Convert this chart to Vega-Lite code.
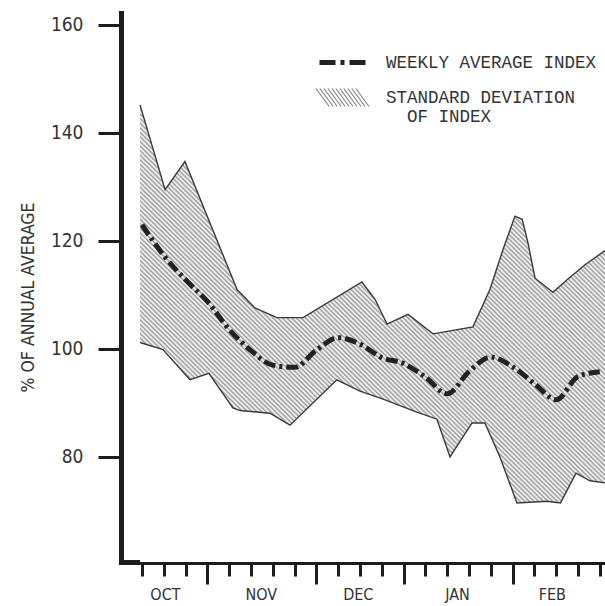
{
  "$schema": "https://vega.github.io/schema/vega-lite/v6.json",
  "width": 484,
  "height": 549,
  "padding": {"left": 121, "top": 13, "right": 0, "bottom": 44},
  "autosize": {"type": "none"},
  "background": "white",
  "config": {
    "view": {"stroke": null},
    "axis": {"zindex": 1, "grid": false, "domainColor": "#1c1c1c", "tickColor": "#1c1c1c", "labelColor": "#333333"}
  },
  "datasets": {
    "upper": [
      {"week": -0.09, "value": 145.2}, {"week": 1.06, "value": 129.5}, {"week": 1.97, "value": 134.7},
      {"week": 4.36, "value": 111.0}, {"week": 5.18, "value": 107.6}, {"week": 6.19, "value": 105.8},
      {"week": 7.39, "value": 105.8}, {"week": 10.09, "value": 112.4}, {"week": 10.69, "value": 109.2},
      {"week": 11.24, "value": 104.6}, {"week": 12.2, "value": 106.4}, {"week": 13.35, "value": 102.8},
      {"week": 15.18, "value": 104.1}, {"week": 15.96, "value": 111.0}, {"week": 16.56, "value": 118.4},
      {"week": 17.11, "value": 124.6}, {"week": 17.44, "value": 124.0}, {"week": 17.71, "value": 119.6},
      {"week": 18.03, "value": 113.1}, {"week": 18.85, "value": 110.5}, {"week": 19.5, "value": 112.8},
      {"week": 20.32, "value": 115.6}, {"week": 21.24, "value": 118.2}
    ],
    "lower": [
      {"week": -0.09, "value": 101.2}, {"week": 0.96, "value": 99.9}, {"week": 2.2, "value": 94.3},
      {"week": 3.07, "value": 95.5}, {"week": 4.17, "value": 89.1}, {"week": 4.5, "value": 88.6},
      {"week": 5.87, "value": 88.1}, {"week": 6.79, "value": 85.9}, {"week": 8.94, "value": 94.3},
      {"week": 10.0, "value": 92.2}, {"week": 11.06, "value": 90.7}, {"week": 12.61, "value": 88.3},
      {"week": 13.53, "value": 87.0}, {"week": 14.13, "value": 80.0}, {"week": 15.14, "value": 86.3},
      {"week": 15.73, "value": 86.3}, {"week": 16.42, "value": 80.0}, {"week": 17.2, "value": 71.5},
      {"week": 18.58, "value": 71.8}, {"week": 19.2, "value": 71.5}, {"week": 19.91, "value": 77.0},
      {"week": 20.55, "value": 75.6}, {"week": 21.24, "value": 75.2}
    ],
    "mean": [
      {"week": 0, "value": 123.0}, {"week": 1, "value": 117.3}, {"week": 2, "value": 112.8},
      {"week": 3, "value": 108.8}, {"week": 4, "value": 103.6}, {"week": 5, "value": 99.7},
      {"week": 6, "value": 97.0}, {"week": 7, "value": 96.6}, {"week": 8, "value": 99.8},
      {"week": 9, "value": 102.1}, {"week": 10, "value": 100.9}, {"week": 11, "value": 98.4},
      {"week": 12, "value": 97.3}, {"week": 13, "value": 94.8}, {"week": 14, "value": 91.7},
      {"week": 15, "value": 95.8}, {"week": 16, "value": 98.5}, {"week": 17, "value": 96.7},
      {"week": 18, "value": 93.6}, {"week": 19, "value": 90.6}, {"week": 20, "value": 94.9},
      {"week": 21, "value": 95.8}
    ]
  },
  "layer": [
    {
      "data": {"name": "upper"},
      "mark": {
        "type": "area", "interpolate": "linear",
        "fill": {
          "gradient": "linear", "x1": 0, "y1": 1, "x2": 1, "y2": 0,
          "stops": [
{"offset":0,"color":"#999"},{"offset":0.0025,"color":"#fff"},{"offset":0.005,"color":"#999"},{"offset":0.0075,"color":"#fff"},
{"offset":0.01,"color":"#999"},{"offset":0.0125,"color":"#fff"},{"offset":0.015,"color":"#999"},{"offset":0.0175,"color":"#fff"},
{"offset":0.02,"color":"#999"},{"offset":0.0225,"color":"#fff"},{"offset":0.025,"color":"#999"},{"offset":0.0275,"color":"#fff"},
{"offset":0.03,"color":"#999"},{"offset":0.0325,"color":"#fff"},{"offset":0.035,"color":"#999"},{"offset":0.0375,"color":"#fff"},
{"offset":0.04,"color":"#999"},{"offset":0.0425,"color":"#fff"},{"offset":0.045,"color":"#999"},{"offset":0.0475,"color":"#fff"},
{"offset":0.05,"color":"#999"},{"offset":0.0525,"color":"#fff"},{"offset":0.055,"color":"#999"},{"offset":0.0575,"color":"#fff"},
{"offset":0.06,"color":"#999"},{"offset":0.0625,"color":"#fff"},{"offset":0.065,"color":"#999"},{"offset":0.0675,"color":"#fff"},
{"offset":0.07,"color":"#999"},{"offset":0.0725,"color":"#fff"},{"offset":0.075,"color":"#999"},{"offset":0.0775,"color":"#fff"},
{"offset":0.08,"color":"#999"},{"offset":0.0825,"color":"#fff"},{"offset":0.085,"color":"#999"},{"offset":0.0875,"color":"#fff"},
{"offset":0.09,"color":"#999"},{"offset":0.0925,"color":"#fff"},{"offset":0.095,"color":"#999"},{"offset":0.0975,"color":"#fff"},
{"offset":0.1,"color":"#999"},{"offset":0.1025,"color":"#fff"},{"offset":0.105,"color":"#999"},{"offset":0.1075,"color":"#fff"},
{"offset":0.11,"color":"#999"},{"offset":0.1125,"color":"#fff"},{"offset":0.115,"color":"#999"},{"offset":0.1175,"color":"#fff"},
{"offset":0.12,"color":"#999"},{"offset":0.1225,"color":"#fff"},{"offset":0.125,"color":"#999"},{"offset":0.1275,"color":"#fff"},
{"offset":0.13,"color":"#999"},{"offset":0.1325,"color":"#fff"},{"offset":0.135,"color":"#999"},{"offset":0.1375,"color":"#fff"},
{"offset":0.14,"color":"#999"},{"offset":0.1425,"color":"#fff"},{"offset":0.145,"color":"#999"},{"offset":0.1475,"color":"#fff"},
{"offset":0.15,"color":"#999"},{"offset":0.1525,"color":"#fff"},{"offset":0.155,"color":"#999"},{"offset":0.1575,"color":"#fff"},
{"offset":0.16,"color":"#999"},{"offset":0.1625,"color":"#fff"},{"offset":0.165,"color":"#999"},{"offset":0.1675,"color":"#fff"},
{"offset":0.17,"color":"#999"},{"offset":0.1725,"color":"#fff"},{"offset":0.175,"color":"#999"},{"offset":0.1775,"color":"#fff"},
{"offset":0.18,"color":"#999"},{"offset":0.1825,"color":"#fff"},{"offset":0.185,"color":"#999"},{"offset":0.1875,"color":"#fff"},
{"offset":0.19,"color":"#999"},{"offset":0.1925,"color":"#fff"},{"offset":0.195,"color":"#999"},{"offset":0.1975,"color":"#fff"},
{"offset":0.2,"color":"#999"},{"offset":0.2025,"color":"#fff"},{"offset":0.205,"color":"#999"},{"offset":0.2075,"color":"#fff"},
{"offset":0.21,"color":"#999"},{"offset":0.2125,"color":"#fff"},{"offset":0.215,"color":"#999"},{"offset":0.2175,"color":"#fff"},
{"offset":0.22,"color":"#999"},{"offset":0.2225,"color":"#fff"},{"offset":0.225,"color":"#999"},{"offset":0.2275,"color":"#fff"},
{"offset":0.23,"color":"#999"},{"offset":0.2325,"color":"#fff"},{"offset":0.235,"color":"#999"},{"offset":0.2375,"color":"#fff"},
{"offset":0.24,"color":"#999"},{"offset":0.2425,"color":"#fff"},{"offset":0.245,"color":"#999"},{"offset":0.2475,"color":"#fff"},
{"offset":0.25,"color":"#999"},{"offset":0.2525,"color":"#fff"},{"offset":0.255,"color":"#999"},{"offset":0.2575,"color":"#fff"},
{"offset":0.26,"color":"#999"},{"offset":0.2625,"color":"#fff"},{"offset":0.265,"color":"#999"},{"offset":0.2675,"color":"#fff"},
{"offset":0.27,"color":"#999"},{"offset":0.2725,"color":"#fff"},{"offset":0.275,"color":"#999"},{"offset":0.2775,"color":"#fff"},
{"offset":0.28,"color":"#999"},{"offset":0.2825,"color":"#fff"},{"offset":0.285,"color":"#999"},{"offset":0.2875,"color":"#fff"},
{"offset":0.29,"color":"#999"},{"offset":0.2925,"color":"#fff"},{"offset":0.295,"color":"#999"},{"offset":0.2975,"color":"#fff"},
{"offset":0.3,"color":"#999"},{"offset":0.3025,"color":"#fff"},{"offset":0.305,"color":"#999"},{"offset":0.3075,"color":"#fff"},
{"offset":0.31,"color":"#999"},{"offset":0.3125,"color":"#fff"},{"offset":0.315,"color":"#999"},{"offset":0.3175,"color":"#fff"},
{"offset":0.32,"color":"#999"},{"offset":0.3225,"color":"#fff"},{"offset":0.325,"color":"#999"},{"offset":0.3275,"color":"#fff"},
{"offset":0.33,"color":"#999"},{"offset":0.3325,"color":"#fff"},{"offset":0.335,"color":"#999"},{"offset":0.3375,"color":"#fff"},
{"offset":0.34,"color":"#999"},{"offset":0.3425,"color":"#fff"},{"offset":0.345,"color":"#999"},{"offset":0.3475,"color":"#fff"},
{"offset":0.35,"color":"#999"},{"offset":0.3525,"color":"#fff"},{"offset":0.355,"color":"#999"},{"offset":0.3575,"color":"#fff"},
{"offset":0.36,"color":"#999"},{"offset":0.3625,"color":"#fff"},{"offset":0.365,"color":"#999"},{"offset":0.3675,"color":"#fff"},
{"offset":0.37,"color":"#999"},{"offset":0.3725,"color":"#fff"},{"offset":0.375,"color":"#999"},{"offset":0.3775,"color":"#fff"},
{"offset":0.38,"color":"#999"},{"offset":0.3825,"color":"#fff"},{"offset":0.385,"color":"#999"},{"offset":0.3875,"color":"#fff"},
{"offset":0.39,"color":"#999"},{"offset":0.3925,"color":"#fff"},{"offset":0.395,"color":"#999"},{"offset":0.3975,"color":"#fff"},
{"offset":0.4,"color":"#999"},{"offset":0.4025,"color":"#fff"},{"offset":0.405,"color":"#999"},{"offset":0.4075,"color":"#fff"},
{"offset":0.41,"color":"#999"},{"offset":0.4125,"color":"#fff"},{"offset":0.415,"color":"#999"},{"offset":0.4175,"color":"#fff"},
{"offset":0.42,"color":"#999"},{"offset":0.4225,"color":"#fff"},{"offset":0.425,"color":"#999"},{"offset":0.4275,"color":"#fff"},
{"offset":0.43,"color":"#999"},{"offset":0.4325,"color":"#fff"},{"offset":0.435,"color":"#999"},{"offset":0.4375,"color":"#fff"},
{"offset":0.44,"color":"#999"},{"offset":0.4425,"color":"#fff"},{"offset":0.445,"color":"#999"},{"offset":0.4475,"color":"#fff"},
{"offset":0.45,"color":"#999"},{"offset":0.4525,"color":"#fff"},{"offset":0.455,"color":"#999"},{"offset":0.4575,"color":"#fff"},
{"offset":0.46,"color":"#999"},{"offset":0.4625,"color":"#fff"},{"offset":0.465,"color":"#999"},{"offset":0.4675,"color":"#fff"},
{"offset":0.47,"color":"#999"},{"offset":0.4725,"color":"#fff"},{"offset":0.475,"color":"#999"},{"offset":0.4775,"color":"#fff"},
{"offset":0.48,"color":"#999"},{"offset":0.4825,"color":"#fff"},{"offset":0.485,"color":"#999"},{"offset":0.4875,"color":"#fff"},
{"offset":0.49,"color":"#999"},{"offset":0.4925,"color":"#fff"},{"offset":0.495,"color":"#999"},{"offset":0.4975,"color":"#fff"},
{"offset":0.5,"color":"#999"},{"offset":0.5025,"color":"#fff"},{"offset":0.505,"color":"#999"},{"offset":0.5075,"color":"#fff"},
{"offset":0.51,"color":"#999"},{"offset":0.5125,"color":"#fff"},{"offset":0.515,"color":"#999"},{"offset":0.5175,"color":"#fff"},
{"offset":0.52,"color":"#999"},{"offset":0.5225,"color":"#fff"},{"offset":0.525,"color":"#999"},{"offset":0.5275,"color":"#fff"},
{"offset":0.53,"color":"#999"},{"offset":0.5325,"color":"#fff"},{"offset":0.535,"color":"#999"},{"offset":0.5375,"color":"#fff"},
{"offset":0.54,"color":"#999"},{"offset":0.5425,"color":"#fff"},{"offset":0.545,"color":"#999"},{"offset":0.5475,"color":"#fff"},
{"offset":0.55,"color":"#999"},{"offset":0.5525,"color":"#fff"},{"offset":0.555,"color":"#999"},{"offset":0.5575,"color":"#fff"},
{"offset":0.56,"color":"#999"},{"offset":0.5625,"color":"#fff"},{"offset":0.565,"color":"#999"},{"offset":0.5675,"color":"#fff"},
{"offset":0.57,"color":"#999"},{"offset":0.5725,"color":"#fff"},{"offset":0.575,"color":"#999"},{"offset":0.5775,"color":"#fff"},
{"offset":0.58,"color":"#999"},{"offset":0.5825,"color":"#fff"},{"offset":0.585,"color":"#999"},{"offset":0.5875,"color":"#fff"},
{"offset":0.59,"color":"#999"},{"offset":0.5925,"color":"#fff"},{"offset":0.595,"color":"#999"},{"offset":0.5975,"color":"#fff"},
{"offset":0.6,"color":"#999"},{"offset":0.6025,"color":"#fff"},{"offset":0.605,"color":"#999"},{"offset":0.6075,"color":"#fff"},
{"offset":0.61,"color":"#999"},{"offset":0.6125,"color":"#fff"},{"offset":0.615,"color":"#999"},{"offset":0.6175,"color":"#fff"},
{"offset":0.62,"color":"#999"},{"offset":0.6225,"color":"#fff"},{"offset":0.625,"color":"#999"},{"offset":0.6275,"color":"#fff"},
{"offset":0.63,"color":"#999"},{"offset":0.6325,"color":"#fff"},{"offset":0.635,"color":"#999"},{"offset":0.6375,"color":"#fff"},
{"offset":0.64,"color":"#999"},{"offset":0.6425,"color":"#fff"},{"offset":0.645,"color":"#999"},{"offset":0.6475,"color":"#fff"},
{"offset":0.65,"color":"#999"},{"offset":0.6525,"color":"#fff"},{"offset":0.655,"color":"#999"},{"offset":0.6575,"color":"#fff"},
{"offset":0.66,"color":"#999"},{"offset":0.6625,"color":"#fff"},{"offset":0.665,"color":"#999"},{"offset":0.6675,"color":"#fff"},
{"offset":0.67,"color":"#999"},{"offset":0.6725,"color":"#fff"},{"offset":0.675,"color":"#999"},{"offset":0.6775,"color":"#fff"},
{"offset":0.68,"color":"#999"},{"offset":0.6825,"color":"#fff"},{"offset":0.685,"color":"#999"},{"offset":0.6875,"color":"#fff"},
{"offset":0.69,"color":"#999"},{"offset":0.6925,"color":"#fff"},{"offset":0.695,"color":"#999"},{"offset":0.6975,"color":"#fff"},
{"offset":0.7,"color":"#999"},{"offset":0.7025,"color":"#fff"},{"offset":0.705,"color":"#999"},{"offset":0.7075,"color":"#fff"},
{"offset":0.71,"color":"#999"},{"offset":0.7125,"color":"#fff"},{"offset":0.715,"color":"#999"},{"offset":0.7175,"color":"#fff"},
{"offset":0.72,"color":"#999"},{"offset":0.7225,"color":"#fff"},{"offset":0.725,"color":"#999"},{"offset":0.7275,"color":"#fff"},
{"offset":0.73,"color":"#999"},{"offset":0.7325,"color":"#fff"},{"offset":0.735,"color":"#999"},{"offset":0.7375,"color":"#fff"},
{"offset":0.74,"color":"#999"},{"offset":0.7425,"color":"#fff"},{"offset":0.745,"color":"#999"},{"offset":0.7475,"color":"#fff"},
{"offset":0.75,"color":"#999"},{"offset":0.7525,"color":"#fff"},{"offset":0.755,"color":"#999"},{"offset":0.7575,"color":"#fff"},
{"offset":0.76,"color":"#999"},{"offset":0.7625,"color":"#fff"},{"offset":0.765,"color":"#999"},{"offset":0.7675,"color":"#fff"},
{"offset":0.77,"color":"#999"},{"offset":0.7725,"color":"#fff"},{"offset":0.775,"color":"#999"},{"offset":0.7775,"color":"#fff"},
{"offset":0.78,"color":"#999"},{"offset":0.7825,"color":"#fff"},{"offset":0.785,"color":"#999"},{"offset":0.7875,"color":"#fff"},
{"offset":0.79,"color":"#999"},{"offset":0.7925,"color":"#fff"},{"offset":0.795,"color":"#999"},{"offset":0.7975,"color":"#fff"},
{"offset":0.8,"color":"#999"},{"offset":0.8025,"color":"#fff"},{"offset":0.805,"color":"#999"},{"offset":0.8075,"color":"#fff"},
{"offset":0.81,"color":"#999"},{"offset":0.8125,"color":"#fff"},{"offset":0.815,"color":"#999"},{"offset":0.8175,"color":"#fff"},
{"offset":0.82,"color":"#999"},{"offset":0.8225,"color":"#fff"},{"offset":0.825,"color":"#999"},{"offset":0.8275,"color":"#fff"},
{"offset":0.83,"color":"#999"},{"offset":0.8325,"color":"#fff"},{"offset":0.835,"color":"#999"},{"offset":0.8375,"color":"#fff"},
{"offset":0.84,"color":"#999"},{"offset":0.8425,"color":"#fff"},{"offset":0.845,"color":"#999"},{"offset":0.8475,"color":"#fff"},
{"offset":0.85,"color":"#999"},{"offset":0.8525,"color":"#fff"},{"offset":0.855,"color":"#999"},{"offset":0.8575,"color":"#fff"},
{"offset":0.86,"color":"#999"},{"offset":0.8625,"color":"#fff"},{"offset":0.865,"color":"#999"},{"offset":0.8675,"color":"#fff"},
{"offset":0.87,"color":"#999"},{"offset":0.8725,"color":"#fff"},{"offset":0.875,"color":"#999"},{"offset":0.8775,"color":"#fff"},
{"offset":0.88,"color":"#999"},{"offset":0.8825,"color":"#fff"},{"offset":0.885,"color":"#999"},{"offset":0.8875,"color":"#fff"},
{"offset":0.89,"color":"#999"},{"offset":0.8925,"color":"#fff"},{"offset":0.895,"color":"#999"},{"offset":0.8975,"color":"#fff"},
{"offset":0.9,"color":"#999"},{"offset":0.9025,"color":"#fff"},{"offset":0.905,"color":"#999"},{"offset":0.9075,"color":"#fff"},
{"offset":0.91,"color":"#999"},{"offset":0.9125,"color":"#fff"},{"offset":0.915,"color":"#999"},{"offset":0.9175,"color":"#fff"},
{"offset":0.92,"color":"#999"},{"offset":0.9225,"color":"#fff"},{"offset":0.925,"color":"#999"},{"offset":0.9275,"color":"#fff"},
{"offset":0.93,"color":"#999"},{"offset":0.9325,"color":"#fff"},{"offset":0.935,"color":"#999"},{"offset":0.9375,"color":"#fff"},
{"offset":0.94,"color":"#999"},{"offset":0.9425,"color":"#fff"},{"offset":0.945,"color":"#999"},{"offset":0.9475,"color":"#fff"},
{"offset":0.95,"color":"#999"},{"offset":0.9525,"color":"#fff"},{"offset":0.955,"color":"#999"},{"offset":0.9575,"color":"#fff"},
{"offset":0.96,"color":"#999"},{"offset":0.9625,"color":"#fff"},{"offset":0.965,"color":"#999"},{"offset":0.9675,"color":"#fff"},
{"offset":0.97,"color":"#999"},{"offset":0.9725,"color":"#fff"},{"offset":0.975,"color":"#999"},{"offset":0.9775,"color":"#fff"},
{"offset":0.98,"color":"#999"},{"offset":0.9825,"color":"#fff"},{"offset":0.985,"color":"#999"},{"offset":0.9875,"color":"#fff"},
{"offset":0.99,"color":"#999"},{"offset":0.9925,"color":"#fff"},{"offset":0.995,"color":"#999"},{"offset":0.9975,"color":"#fff"},
{"offset":1,"color":"#999"}
          ]
        }
      },
      "encoding": {
        "x": {
          "field": "week", "type": "quantitative",
          "scale": {"domain": [-0.963, 21.24], "nice": false, "zero": false},
          "axis": {
            "orient": "bottom", "title": null, "values": [0,1,2,3,4,5,6,7,8,9,10,11,12,13,14,15,16,17,18,19,20,21],
            "labels": false, "tickSize": 14, "tickWidth": 3, "domainWidth": 5, "domainCap": "square"
          }
        },
        "y": {
          "field": "value", "type": "quantitative",
          "scale": {"domain": [60.56, 162.2], "nice": false, "zero": false},
          "axis": {
            "orient": "left", "values": [80, 100, 120, 140, 160], "tickSize": 23, "tickWidth": 3, "domainWidth": 5, "domainCap": "square",
            "labelFont": "DejaVu Sans Condensed", "labelFontSize": 19, "labelPadding": 15,
            "title": "% OF ANNUAL AVERAGE", "titleFont": "DejaVu Sans Condensed", "titleFontSize": 17.5,
            "titleFontWeight": "normal", "titleColor": "#333333", "titlePadding": 13, "titleY": 284
          }
        },
        "y2": {"datum": 60.56}
      }
    },
    {
      "data": {"name": "lower"},
      "mark": {"type": "area", "interpolate": "linear", "fill": "white"},
      "encoding": {
        "x": {"field": "week", "type": "quantitative", "scale": {"domain": [-0.963, 21.24], "nice": false, "zero": false}, "axis": null},
        "y": {"field": "value", "type": "quantitative", "scale": {"domain": [60.56, 162.2], "nice": false, "zero": false}, "axis": null},
        "y2": {"datum": 60.56}
      }
    },
    {
      "data": {"name": "upper"},
      "mark": {"type": "line", "interpolate": "linear", "stroke": "#3a3a3a", "strokeWidth": 1.4},
      "encoding": {
        "x": {
          "field": "week", "type": "quantitative", "scale": {"domain": [-0.963, 21.24], "nice": false, "zero": false},
          "axis": {
            "orient": "bottom", "title": null, "values": [1.05, 5.45, 9.9, 14.45, 18.8], "ticks": false, "domain": false,
            "labelFont": "DejaVu Sans Condensed", "labelFontSize": 16, "labelPadding": 24,
            "labelExpr": "datum.value < 3 ? 'OCT' : datum.value < 8 ? 'NOV' : datum.value < 12 ? 'DEC' : datum.value < 17 ? 'JAN' : 'FEB'"
          }
        },
        "y": {"field": "value", "type": "quantitative", "scale": {"domain": [60.56, 162.2], "nice": false, "zero": false}, "axis": null}
      }
    },
    {
      "data": {"name": "lower"},
      "mark": {"type": "line", "interpolate": "linear", "strokeWidth": 1.4},
      "encoding": {
        "x": {"field": "week", "type": "quantitative", "scale": {"domain": [-0.963, 21.24], "nice": false, "zero": false}, "axis": null},
        "y": {"field": "value", "type": "quantitative", "scale": {"domain": [60.56, 162.2], "nice": false, "zero": false}, "axis": null},
        "stroke": {
          "datum": "STANDARD DEVIATION OF INDEX", "type": "nominal",
          "scale": {"range": ["#3a3a3a"]},
          "legend": {
            "orient": "none", "legendX": 194, "legendY": 57, "title": null, "padding": 0,
            "symbolType": "M-1,-0.34L-0.5,0.34M-0.85,-0.34L-0.35,0.34M-0.7,-0.34L-0.2,0.34M-0.55,-0.34L-0.05,0.34M-0.4,-0.34L0.1,0.34M-0.25,-0.34L0.25,0.34M-0.1,-0.34L0.4,0.34M0.05,-0.34L0.55,0.34M0.2,-0.34L0.7,0.34M0.35,-0.34L0.85,0.34M0.5,-0.34L1,0.34",
            "symbolSize": 2809, "symbolStrokeWidth": 1.2, "symbolOpacity": 0.6,
            "labelFont": "Liberation Mono", "labelFontSize": 17.5, "labelColor": "#333333", "labelOffset": 16, "labelLimit": 400,
            "labelExpr": "['STANDARD DEVIATION', '\u200b\u00a0\u00a0OF INDEX']"
          }
        }
      }
    },
    {
      "data": {"name": "mean"},
      "mark": {"type": "line", "interpolate": "monotone", "strokeWidth": 5, "strokeDash": [12, 4, 3, 4]},
      "encoding": {
        "x": {
          "field": "week", "type": "quantitative", "scale": {"domain": [-0.963, 21.24], "nice": false, "zero": false},
          "axis": {"orient": "bottom", "title": null, "values": [3, 8, 12, 17], "labels": false, "domain": false, "tickSize": 22, "tickWidth": 3}
        },
        "y": {"field": "value", "type": "quantitative", "scale": {"domain": [60.56, 162.2], "nice": false, "zero": false}, "axis": null},
        "stroke": {
          "datum": "WEEKLY AVERAGE INDEX", "type": "nominal",
          "scale": {"range": ["#222222"]},
          "legend": {
            "orient": "none", "legendX": 196, "legendY": 22, "title": null, "padding": 0,
            "symbolType": "stroke", "symbolSize": 2500, "symbolStrokeWidth": 5, "symbolDash": [16, 5, 4, 5],
            "labelFont": "Liberation Mono", "labelFontSize": 17.5, "labelColor": "#333333", "labelOffset": 14, "labelLimit": 400
          }
        }
      }
    }
  ],
  "resolve": {
    "axis": {"x": "independent", "y": "independent"},
    "scale": {"stroke": "independent"},
    "legend": {"stroke": "independent"}
  }
}
